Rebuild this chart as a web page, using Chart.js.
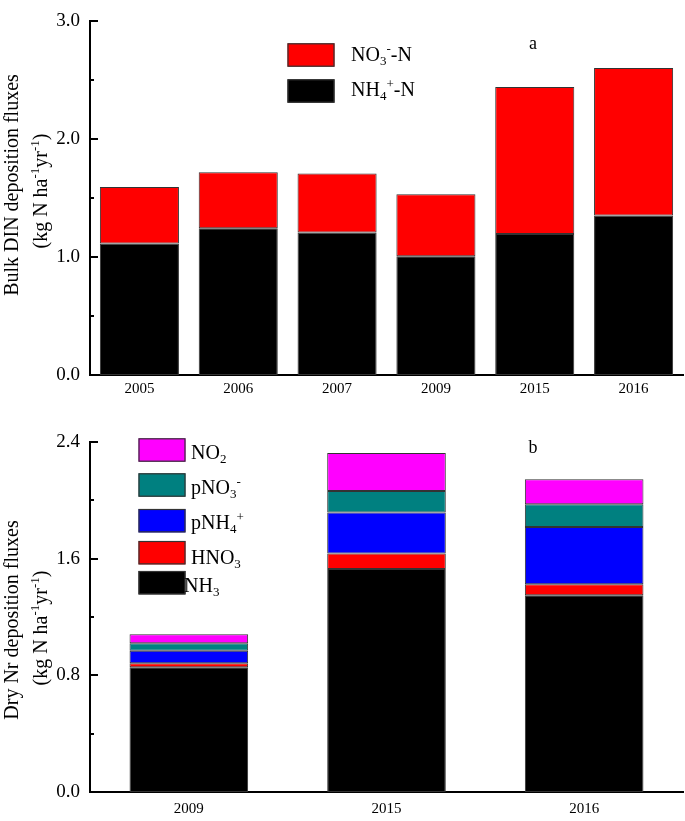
<!DOCTYPE html>
<html><head><meta charset="utf-8">
<script src="https://cdn.jsdelivr.net/npm/chart.js@4/dist/chart.umd.min.js"></script>
<style>
body{margin:0;background:#fff;width:685px;height:821px;overflow:hidden;position:relative;}
canvas{position:absolute;left:0;}
#c1{top:0;} #c2{top:400px;}
</style>
</head><body>
<canvas id="c1" width="685" height="400"></canvas>
<canvas id="c2" width="685" height="421"></canvas>
<script>
// ---------- Data: panel a ----------
const yearsA = ['2005','2006','2007','2009','2015','2016'];
const nh4A = [1.115,1.246,1.208,1.008,1.197,1.353];
const no3A = [0.479,0.474,0.502,0.526,1.246,1.252];
const tickValsA = [0,1,2,3];
const tickLabelsA = ['0.0','1.0','2.0','3.0'];
const labelsA = ['NH_{4}^{+}-N','NO_{3}^{-}-N'];

// ---------- Data: panel b ----------
const yearsB = ['2009','2015','2016'];
const nh3B  = [0.855,1.530,1.350];
const hno3B = [0.028,0.106,0.074];
const pnh4B = [0.086,0.280,0.394];
const pno3B = [0.051,0.148,0.155];
const no2B  = [0.061,0.261,0.171];
const tickValsB = [0,0.8,1.6,2.4];
const tickLabelsB = ['0.0','0.8','1.6','2.4'];
const labelsB = ['NH_{3}','HNO_{3}','pNH_{4}^{+}','pNO_{3}^{-}','NO_{2}'];

const FONT = "'Liberation Serif','Times New Roman',serif";

function parseRich(s){
  const segs=[]; let i=0, buf='';
  while(i<s.length){
    const c=s[i];
    if((c==='_'||c==='^') && s[i+1]==='{'){
      if(buf){segs.push({t:buf,m:0});buf='';}
      const j=s.indexOf('}',i);
      segs.push({t:s.slice(i+2,j),m:c==='_'?1:2});
      i=j+1;
    } else {buf+=c;i++;}
  }
  if(buf) segs.push({t:buf,m:0});
  return segs;
}
function drawRich(ctx,s,x,y,size,align){
  const segs=parseRich(s);
  let w=0;
  segs.forEach(g=>{ctx.font=(g.m?size*0.65:size)+'px '+FONT; g.w=ctx.measureText(g.t).width; w+=g.w;});
  let cx = align==='center' ? x-w/2 : x;
  ctx.textAlign='left'; ctx.textBaseline='alphabetic'; ctx.fillStyle='#000';
  segs.forEach(g=>{
    ctx.font=(g.m?size*0.65:size)+'px '+FONT;
    const dy = g.m===1 ? size*0.22 : (g.m===2 ? -size*0.42 : 0);
    ctx.fillText(g.t,cx,y+dy); cx+=g.w;
  });
}

function decorPlugin(cfg){
  return {
    id:'decor'+cfg.name,
    afterDraw(chart){
      const ctx=chart.ctx, ys=chart.scales.y, ca=chart.chartArea;
      ctx.save();
      // inward ticks (major + minor)
      ctx.strokeStyle='#000'; ctx.lineWidth=2;
      for(let k=0;k<=cfg.nMinor;k++){
        const v=cfg.max*k/cfg.nMinor;
        const py=Math.round(ys.getPixelForValue(v));
        const len = (k%2===0)?8:4;
        ctx.beginPath(); ctx.moveTo(ca.left,py); ctx.lineTo(ca.left+len,py); ctx.stroke();
      }
      // legend
      const ds=chart.data.datasets;
      cfg.legend.forEach((it)=>{
        const d=ds[it.idx];
        ctx.fillStyle=d.backgroundColor; ctx.fillRect(it.bx,it.by,47,23.4);
        ctx.strokeStyle='#333'; ctx.lineWidth=1.2; ctx.strokeRect(it.bx+0.5,it.by+0.5,46,22.4);
        drawRich(ctx,d.label,it.tx,it.ty,cfg.legendSize,'left');
      });
      // panel letter
      ctx.fillStyle='#000'; ctx.font='18px '+FONT; ctx.textAlign='center'; ctx.textBaseline='alphabetic';
      ctx.fillText(cfg.letter,533,cfg.letterY);
      // axis title
      cfg.title.forEach(t=>{
        ctx.save(); ctx.translate(t.x,t.y); ctx.rotate(-Math.PI/2);
        drawRich(ctx,t.text,0,6,20,'center');
        ctx.restore();
      });
      ctx.restore();
    }
  };
}

function makeOpts(c){
  return {
    responsive:false, animation:false,
    layout:{padding:{left:0,right:2,top:c.padTop,bottom:0}},
    plugins:{legend:{display:false},tooltip:{enabled:false}},
    scales:{
      x:{stacked:true, grid:{display:false,drawTicks:false},
         border:{display:true,color:'#000',width:2},
         ticks:{color:'#000',font:{family:FONT,size:15},padding:c.xPad,maxRotation:0},
         afterFit:s=>{s.height=c.xH;}},
      y:{stacked:true, min:0, max:c.max, grid:{display:false,drawTicks:false},
         border:{display:true,color:'#000',width:2},
         ticks:{color:'#000',font:{family:FONT,size:19},padding:10,
                callback:(v,i)=>c.tickLabels[i]},
         afterBuildTicks:s=>{s.ticks=c.tickVals.map(v=>({value:v}));},
         afterFit:s=>{s.width=90;}}
    }
  };
}
function bar(label,data,color,pct){
  return {label,data,backgroundColor:color,borderColor:'#333',borderWidth:1,
          borderSkipped:false,categoryPercentage:pct,barPercentage:1};
}

new Chart(document.getElementById('c1'),{
  type:'bar',
  data:{labels:yearsA,datasets:[
    bar(labelsA[0],nh4A,'#000000',0.8),
    bar(labelsA[1],no3A,'#ff0000',0.8)
  ]},
  options:makeOpts({padTop:10,xPad:5,xH:25,max:3,tickVals:tickValsA,tickLabels:tickLabelsA}),
  plugins:[decorPlugin({name:'a',max:3,nMinor:6,legendSize:20,letter:'a',letterY:49,
    legend:[{idx:1,bx:287.5,by:43.3,tx:351,ty:61},{idx:0,bx:287.5,by:79.3,tx:351,ty:96}],
    title:[{text:'Bulk DIN deposition fluxes',x:12,y:185},{text:'(kg N ha^{-1}yr^{-1})',x:41,y:191}]})]
});

new Chart(document.getElementById('c2'),{
  type:'bar',
  data:{labels:yearsB,datasets:[
    bar(labelsB[0],nh3B,'#000000',0.6),
    bar(labelsB[1],hno3B,'#ff0000',0.6),
    bar(labelsB[2],pnh4B,'#0000ff',0.6),
    bar(labelsB[3],pno3B,'#008080',0.6),
    bar(labelsB[4],no2B,'#ff00ff',0.6)
  ]},
  options:makeOpts({padTop:42,xPad:8,xH:29,max:2.4,tickVals:tickValsB,tickLabels:tickLabelsB}),
  plugins:[decorPlugin({name:'b',max:2.4,nMinor:6,legendSize:20,letter:'b',letterY:52.7,
    legend:[{idx:4,bx:138.5,by:38.3,tx:191,ty:59},{idx:3,bx:138.5,by:73.3,tx:191,ty:94},
            {idx:2,bx:138.5,by:109,tx:191,ty:129},{idx:1,bx:138.5,by:141,tx:191,ty:164},
            {idx:0,bx:138.5,by:171,tx:184,ty:192}],
    title:[{text:'Dry Nr deposition fluxes',x:12,y:220},{text:'(kg N ha^{-1}yr^{-1})',x:41,y:228}]})]
});
</script>
</body></html>
